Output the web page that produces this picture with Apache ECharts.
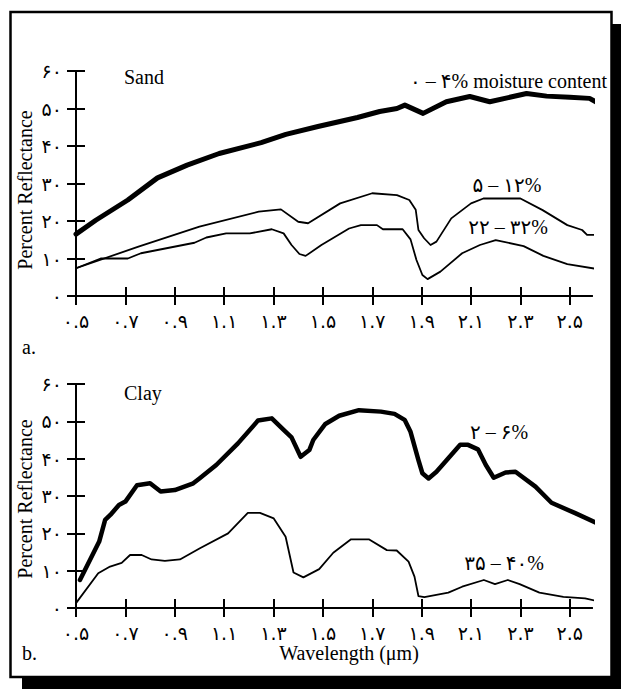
<!DOCTYPE html>
<html>
<head>
<meta charset="utf-8">
<script src="https://cdn.jsdelivr.net/npm/echarts@6/dist/echarts.min.js"></script>
<style>html,body{margin:0;padding:0;background:#fff;}#c{width:621px;height:689px;}</style>
</head>
<body>
<div id="c"></div>
<script>
// ---- data ----
const xTicks = [0.5, 0.7, 0.9, 1.1, 1.3, 1.5, 1.7, 1.9, 2.1, 2.3, 2.5];
const yTicks = [0, 10, 20, 30, 40, 50, 60];

// Sand, 0-4% moisture
const sandDryX = [0.50, 0.58, 0.71, 0.83, 0.95, 1.08, 1.25, 1.35, 1.48, 1.64, 1.73, 1.80, 1.832, 1.906, 2.00, 2.095, 2.176, 2.325, 2.406, 2.50, 2.58, 2.615];
const sandDryY = [16.5, 20.2, 25.6, 31.5, 34.9, 38.0, 40.9, 43.1, 45.2, 47.6, 49.2, 50.0, 50.9, 48.7, 51.8, 53.2, 51.8, 54.0, 53.3, 53.0, 52.7, 51.4];

// Sand, 5-12%
const sandMidX = [0.50, 0.75, 1.00, 1.24, 1.33, 1.40, 1.44, 1.57, 1.70, 1.80, 1.85, 1.876, 1.887, 1.91, 1.936, 1.96, 2.02, 2.10, 2.15, 2.30, 2.39, 2.49, 2.55, 2.57, 2.60, 2.626];
const sandMidY = [7.4, 13.1, 18.5, 22.5, 23.1, 19.8, 19.4, 24.7, 27.4, 26.9, 25.6, 23.0, 17.6, 15.4, 13.6, 14.5, 20.7, 24.7, 26.0, 26.0, 22.9, 18.9, 17.6, 16.3, 16.3, 15.1];

// Sand, 22-32%
const sandWetX = [0.50, 0.60, 0.71, 0.763, 0.98, 1.028, 1.108, 1.204, 1.293, 1.341, 1.373, 1.405, 1.43, 1.494, 1.606, 1.654, 1.719, 1.743, 1.823, 1.855, 1.879, 1.903, 1.924, 1.976, 2.064, 2.136, 2.20, 2.313, 2.393, 2.49, 2.61];
const sandWetY = [7.4, 10.0, 10.0, 11.4, 14.2, 15.6, 16.7, 16.7, 17.8, 16.7, 13.6, 11.2, 10.7, 13.6, 18.0, 18.9, 18.9, 17.8, 17.8, 15.1, 9.6, 5.6, 4.5, 6.5, 11.4, 13.6, 14.9, 13.3, 10.7, 8.5, 7.2];

// Clay, 2-6%
const clayDryX = [0.516, 0.594, 0.618, 0.64, 0.674, 0.70, 0.747, 0.80, 0.843, 0.90, 0.975, 1.00, 1.068, 1.156, 1.237, 1.293, 1.341, 1.373, 1.41, 1.445, 1.461, 1.51, 1.566, 1.646, 1.735, 1.79, 1.831, 1.855, 1.887, 1.903, 1.928, 1.96, 2.056, 2.088, 2.128, 2.16, 2.192, 2.24, 2.28, 2.361, 2.426, 2.522, 2.618];
const clayDryY = [7.5, 17.8, 23.6, 25.0, 27.6, 28.5, 32.9, 33.4, 31.2, 31.6, 33.4, 34.7, 38.3, 44.1, 50.2, 50.8, 47.7, 45.7, 40.5, 42.3, 45.0, 49.3, 51.5, 53.0, 52.6, 52.0, 50.4, 47.2, 39.6, 36.1, 34.7, 36.5, 43.7, 43.7, 42.5, 38.3, 34.9, 36.3, 36.5, 32.5, 28.2, 25.4, 22.5];

// Clay, 35-40%
const clayWetX = [0.50, 0.59, 0.638, 0.685, 0.719, 0.766, 0.806, 0.86, 0.921, 1.002, 1.116, 1.196, 1.245, 1.301, 1.349, 1.381, 1.421, 1.485, 1.542, 1.614, 1.686, 1.759, 1.799, 1.847, 1.871, 1.887, 1.911, 2.008, 2.064, 2.152, 2.197, 2.249, 2.297, 2.377, 2.474, 2.562, 2.60];
const clayWetY = [1.3, 9.3, 11.1, 12.1, 14.2, 14.2, 13.0, 12.6, 13.0, 16.0, 20.0, 25.5, 25.5, 24.0, 19.1, 9.5, 8.2, 10.4, 14.8, 18.4, 18.4, 15.5, 15.4, 12.4, 8.4, 3.2, 2.9, 4.1, 5.7, 7.5, 6.4, 7.5, 6.4, 4.1, 3.0, 2.6, 2.0];

const seriesLabels = ['۰ – ۴% moisture content', '۵ – ۱۲%', '۲۲ – ۳۲%', '۲ – ۶%', '۳۵ – ۴۰%'];
const panelTitles = ['Sand', 'Clay'];
const panelTags = ['a.', 'b.'];
const yTitle = 'Percent Reflectance';
const xTitle = 'Wavelength (μm)';

// ---- helpers ----
const fa = s => String(s).replace(/\d/g, d => '۰۱۲۳۴۵۶۷۸۹'[+d]);
const zip = (xs, ys) => xs.map((x, i) => [x, ys[i]]);
const SERIF = "'Liberation Serif', serif";
const MIX = "'Liberation Serif', 'DejaVu Sans', serif";

const grids = [
  { left: 76, top: 71, width: 516, height: 225 },
  { left: 76, top: 384, width: 516, height: 224 }
];

const tickStyle = { color: '#000', width: 2 };
const xAxes = [], yAxes = [];
grids.forEach((g, gi) => {
  xAxes.push({
    type: 'value', gridIndex: gi, min: 0.5, max: 2.59, position: 'bottom', splitLine: { show: false },
    axisLine: { show: true, onZero: false, lineStyle: { color: '#000', width: 2 } },
    axisTick: { show: true, inside: false, length: 9, customValues: xTicks, lineStyle: tickStyle },
    axisLabel: { show: true, customValues: xTicks, margin: 15, color: '#000', fontSize: 19, fontFamily: 'DejaVu Sans',
      formatter: v => fa(v.toFixed(1)) }
  });
  xAxes.push({
    type: 'value', gridIndex: gi, min: 0.5, max: 2.59, position: 'bottom', splitLine: { show: false },
    axisLine: { show: true, onZero: false, lineStyle: { color: '#000', width: 2 } },
    axisTick: { show: true, inside: true, length: 9, customValues: xTicks, lineStyle: tickStyle },
    axisLabel: { show: false }
  });
  yAxes.push({
    type: 'value', gridIndex: gi, min: 0, max: 60, interval: 10, position: 'left', splitLine: { show: false },
    axisLine: { show: true, onZero: false, lineStyle: { color: '#000', width: 2 } },
    axisTick: { show: true, inside: false, length: 9, lineStyle: tickStyle },
    axisLabel: { show: true, margin: 14, color: '#000', fontSize: 19, fontFamily: 'DejaVu Sans', formatter: v => fa(v) }
  });
  yAxes.push({
    type: 'value', gridIndex: gi, min: 0, max: 60, interval: 10, position: 'left', splitLine: { show: false },
    axisLine: { show: true, onZero: false, lineStyle: { color: '#000', width: 2 } },
    axisTick: { show: true, inside: true, length: 9, lineStyle: tickStyle },
    axisLabel: { show: false }
  });
});

function line(name, xs, ys, gi, w) {
  return {
    name, type: 'line', xAxisIndex: gi * 2, yAxisIndex: gi * 2,
    data: zip(xs, ys), symbol: 'none', clip: false, smooth: false,
    lineStyle: { color: '#000', width: w, join: 'round', cap: 'round' },
    z: 5
  };
}

const txt = (text, x, y, opts) => ({
  type: 'text', x, y, z: 20,
  style: Object.assign({ text, fill: '#000', font: '20px ' + SERIF, verticalAlign: 'middle', align: 'left' }, opts || {})
});

const option = {
  animation: false,
  backgroundColor: '#fff',
  grid: grids,
  xAxis: xAxes,
  yAxis: yAxes,
  series: [
    line(seriesLabels[0], sandDryX, sandDryY, 0, 5),
    line(seriesLabels[1], sandMidX, sandMidY, 0, 1.8),
    line(seriesLabels[2], sandWetX, sandWetY, 0, 1.8),
    line(seriesLabels[3], clayDryX, clayDryY, 1, 4.5),
    line(seriesLabels[4], clayWetX, clayWetY, 1, 1.8)
  ],
  graphic: [
    { type: 'rect', z: 1, shape: { x: 611, y: 24, width: 12, height: 670 }, style: { fill: '#000' } },
    { type: 'rect', z: 1, shape: { x: 22, y: 677, width: 602, height: 14 }, style: { fill: '#000' } },
    { type: 'rect', z: 2, shape: { x: 10.5, y: 12, width: 601, height: 665 }, style: { fill: 'none', stroke: '#000', lineWidth: 2.5 } },
    txt(panelTitles[0], 124, 77),
    txt(panelTitles[1], 124, 393),
    txt(seriesLabels[0], 607, 81, { align: 'right', font: '20px ' + MIX }),
    txt(seriesLabels[1], 507, 185, { align: 'center', font: '20px ' + MIX }),
    txt(seriesLabels[2], 508, 227, { align: 'center', font: '20px ' + MIX }),
    txt(seriesLabels[3], 499, 432, { align: 'center', font: '20px ' + MIX }),
    txt(seriesLabels[4], 504, 563, { align: 'center', font: '20px ' + MIX }),
    txt(panelTags[0], 22, 347),
    txt(panelTags[1], 22, 653),
    txt(xTitle, 349, 653, { align: 'center' }),
    { type: 'text', x: 25, y: 190, rotation: Math.PI / 2, z: 20,
      style: { text: yTitle, fill: '#000', font: '20px ' + SERIF, align: 'center', verticalAlign: 'middle' } },
    { type: 'text', x: 25, y: 499, rotation: Math.PI / 2, z: 20,
      style: { text: yTitle, fill: '#000', font: '20px ' + SERIF, align: 'center', verticalAlign: 'middle' } }
  ]
};

const chart = echarts.init(document.getElementById('c'), null, { renderer: 'svg', width: 621, height: 689 });
chart.setOption(option);
</script>
</body>
</html>
